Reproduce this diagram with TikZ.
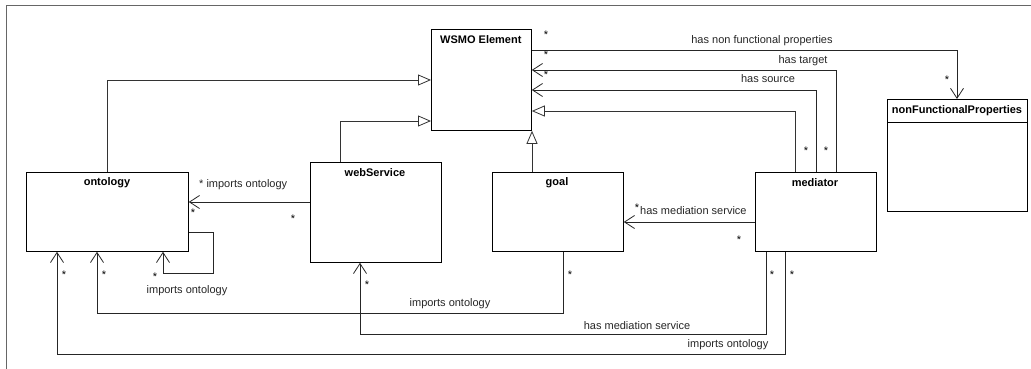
\documentclass[tikz,border=0pt]{standalone}
\usepackage{fontspec}
\setmainfont{Liberation Sans}
\usetikzlibrary{arrows.meta}
\begin{document}
\begin{tikzpicture}[x=1pt,y=-1pt,
  box/.style={draw=black,line width=0.8pt,fill=white,anchor=north west,inner sep=0pt},
  ttl/.style={font=\fontsize{11}{12}\selectfont\bfseries,inner sep=0pt},
  lbl/.style={font=\fontsize{11}{12}\selectfont,inner sep=0pt,text=black!85},
  mult/.style={font=\fontsize{11}{12}\selectfont,inner sep=0pt,anchor=base,yshift=-6pt},
  gen/.style={draw=black!80,line width=0.8pt,-{Triangle[open,length=13pt,width=11pt,fill=white]}},
  assoc/.style={draw=black!85,line width=0.8pt,-{Straight Barb[length=10pt,width=13pt]}}]
\useasboundingbox (0,0) rectangle (1031,369);
\fill[white] (0,0) rectangle (1031,369);
% frame
\draw[black!60,line width=0.8pt] (6,369) coordinate (fa) -- (6,5) coordinate (fb) -- (1031,5) coordinate (fc);
% boxes
\node[box,minimum width=100pt,minimum height=101pt] (wsmo) at (431,29) {};
\node[box,minimum width=162pt,minimum height=79pt] (ont) at (26,172) {};
\node[box,minimum width=131pt,minimum height=100pt] (ws) at (310,162) {};
\node[box,minimum width=131pt,minimum height=79pt] (goal) at (492,172) {};
\node[box,minimum width=121pt,minimum height=79pt] (med) at (755,172) {};
\node[box,minimum width=140pt,minimum height=112pt] (nfp) at (887,99) {};
\draw[black,line width=0.8pt] (nfp.west |- 0,122) -- (nfp.east |- 0,122);
% titles
\node[ttl,anchor=west] (twsmo) at (440,40) {WSMO Element};
\node[ttl] (tont) at (107,183) {ontology};
\node[ttl] (tws) at (375,173) {webService};
\node[ttl] (tgoal) at (557,183) {goal};
\node[ttl] (tmed) at (815,183) {mediator};
\node[ttl] (tnfp) at (957,111) {nonFunctionalProperties};
% generalizations
\draw[gen] (ont.north -| 107,0) |- (wsmo.west |- 0,80);
\draw[gen] (ws.north -| 340,0) |- (wsmo.west |- 0,121);
\draw[gen] (goal.north -| 532,0) -- (wsmo.south -| 532,0);
\draw[gen] (med.north -| 795,0) |- (wsmo.east |- 0,111);
% associations top
\draw[assoc] (med.north -| 816,0) |- (wsmo.east |- 0,90);
\draw[assoc] (med.north -| 836,0) |- (wsmo.east |- 0,70);
\draw[assoc] (wsmo.east |- 0,50) -| (nfp.north -| 957,0);
\node[lbl] (lsrc) at (768,79) {has source};
\node[lbl] (ltgt) at (803,61) {has target};
\node[lbl] (lnfp) at (762,41) {has non functional properties};
\node[mult] (m1) at (546,33) {*};
\node[mult] (m2) at (546,53) {*};
\node[mult] (m3) at (546,72) {*};
\node[mult] (m4) at (947,78) {*};
\node[mult] (m5) at (806,148) {*};
\node[mult] (m6) at (826,148) {*};
% webService -> ontology
\draw[assoc] (ws.west |- 0,202) -- (ont.east |- 0,202);
\node[lbl,anchor=west] (lwo) at (199,185) {* imports ontology};
\node[mult] (m7) at (193,210) {*};
\node[mult] (m8) at (293,216) {*};
% self loop
\draw[assoc] (ont.east |- 0,232) -| ++(25,41) -| (ont.south -| 163,0);
\node[mult] (m9) at (155,274) {*};
\node[lbl] (lself) at (187,291) {imports ontology};
% goal -> ontology
\draw[assoc] (goal.south -| 563,0) -- (563,313) -| (ont.south -| 97,0);
\node[mult] (m10) at (104,272) {*};
\node[mult] (m11) at (570,272) {*};
\node[lbl] (lgo) at (450,304) {imports ontology};
% mediator -> webService
\draw[assoc] (med.south -| 766,0) -- (766,334) -| (ws.south -| 360,0);
\node[mult] (m12) at (367,282) {*};
\node[mult] (m13) at (772,272) {*};
\node[lbl] (lmw) at (637,326) {has mediation service};
% mediator -> ontology
\draw[assoc] (med.south -| 785,0) -- (785,354) -| (ont.south -| 57,0);
\node[mult] (m14) at (64,272) {*};
\node[mult] (m15) at (792,272) {*};
\node[lbl] (lmo) at (728,345) {imports ontology};
% mediator -> goal
\draw[assoc] (med.west |- 0,222) -- (goal.east |- 0,222);
\node[mult] (m16) at (637,205) {*};
\node[lbl,anchor=west] (lmg) at (640,211) {has mediation service};
\node[mult] (m17) at (739,237) {*};
\end{tikzpicture}
\end{document}
